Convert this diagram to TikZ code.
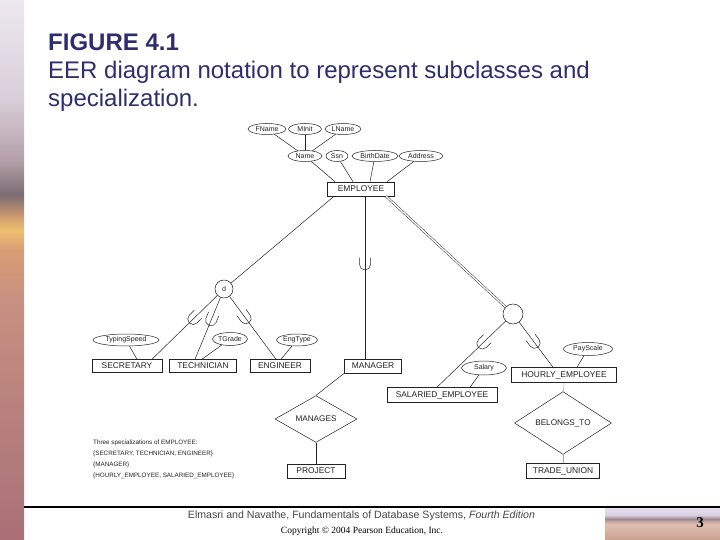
\documentclass[tikz,border=0pt]{standalone}
\usepackage{fontspec}
\setmainfont{Liberation Sans}
\newfontfamily\serifft{Liberation Serif}
\usetikzlibrary{shapes.geometric,calc}
\definecolor{titleblue}{RGB}{46,46,110}
\definecolor{ink}{RGB}{35,35,35}
\definecolor{footgray}{RGB}{70,70,70}
\definecolor{lightln}{RGB}{170,170,170}
\definecolor{Lone}{HTML}{ECE8F0}
\definecolor{Ltwo}{HTML}{D8CDD8}
\definecolor{Lthree}{HTML}{B4A0A8}
\definecolor{Lfour}{HTML}{7C6C72}
\definecolor{Lfive}{HTML}{C89870}
\definecolor{Lsix}{HTML}{EEC070}
\definecolor{Lseven}{HTML}{D89C74}
\definecolor{Leight}{HTML}{C89080}
\definecolor{Lnine}{HTML}{B8827E}
\definecolor{Lten}{HTML}{A87076}
\definecolor{Rone}{HTML}{E6E0EC}
\definecolor{Rtwo}{HTML}{D8D0E0}
\definecolor{Rthree}{HTML}{9C8890}
\definecolor{Rfour}{HTML}{C0A0A0}
\definecolor{Rfive}{HTML}{E0C0B0}
\definecolor{Rsix}{HTML}{C8A090}
\pgfdeclareverticalshading{deskL}{100bp}{color(0bp)=(Lten); color(25bp)=(Lten); color(37.96bp)=(Lnine); color(47.22bp)=(Leight); color(51.85bp)=(Lseven); color(53.7bp)=(Lsix); color(55.09bp)=(Lfive); color(56.94bp)=(Lfour); color(60.19bp)=(Lthree); color(65.74bp)=(Ltwo); color(75bp)=(Lone); color(100bp)=(Lone)}
\pgfdeclareverticalshading{deskR}{100bp}{color(0bp)=(Rsix); color(25bp)=(Rsix); color(50bp)=(Rfive); color(54.7bp)=(Rfour); color(57.8bp)=(Rthree); color(64.06bp)=(Rtwo); color(75bp)=(Rone); color(100bp)=(Rone)}
\tikzset{
 ln/.style={draw=ink, line width=0.5pt},
 ent/.style={rectangle, draw=ink, line width=0.55pt, fill=white, inner sep=0pt, minimum height=14pt, text=ink, font=\fontsize{8.4}{10}\selectfont},
 attr/.style={ellipse, draw=ink, line width=0.5pt, fill=white, inner sep=0pt, minimum height=11pt, text=ink, font=\fontsize{7}{8}\selectfont},
 rel/.style={diamond, draw=ink, line width=0.5pt, fill=white, inner sep=0pt, text=ink, font=\fontsize{8.2}{10}\selectfont},
 spec/.style={circle, draw=ink, line width=0.55pt, fill=white, inner sep=0pt, text=ink, font=\fontsize{7}{8}\selectfont},
 subsetmark/.pic={\draw[ln] (-7pt,5.5pt) -- (0pt,5.5pt) arc[start angle=90,end angle=-90,radius=5.5pt] -- (-7pt,-5.5pt);},
 titletext/.style={anchor=base west, inner sep=0pt, text=titleblue, font=\fontsize{24}{28}\selectfont}
}
\begin{document}
\begin{tikzpicture}[x=1pt,y=-1pt]
\useasboundingbox (0,0) rectangle (720,540);
\fill[white] (0,0) rectangle (720,540);
\shade[shading=deskL] (0,0) rectangle (24,540);
\shade[shading=deskR] (605,508) rectangle (720,540);
\draw[line width=1.1pt] (24,507) -- (720,507);

% title
\node[titletext, font=\bfseries\fontsize{24}{28}\selectfont] (t1) at (48,51) {FIGURE 4.1};
\node[titletext] (t2) at (48,79) {EER diagram notation to represent subclasses and};
\node[titletext] (t3) at (48,107) {specialization.};

% attributes of EMPLOYEE
\node[attr, minimum width=38pt, minimum height=11pt] (fname) at (267,129) {FName};
\node[attr, minimum width=33pt, minimum height=11pt] (minit) at (305,129) {MInit};
\node[attr, minimum width=36pt, minimum height=11pt] (lname) at (343,129) {LName};
\node[attr, minimum width=34pt] (name) at (305,156) {Name};
\node[attr, minimum width=22pt] (ssn) at (337,156) {Ssn};
\node[attr, minimum width=46pt] (bdate) at (375,156) {BirthDate};
\node[attr, minimum width=44pt] (addr) at (421,156) {Address};
\node[ent, minimum width=67pt] (emp) at (361,189) {EMPLOYEE};

\draw[ln] (fname) -- (name);
\draw[ln] (minit) -- (name);
\draw[ln] (lname) -- (name);
\draw[ln] (name) -- ([xshift=-26pt]emp.north);
\draw[ln] (ssn) -- ([xshift=-8pt]emp.north);
\draw[ln] (bdate) -- ([xshift=9pt]emp.north);
\draw[ln] (addr) -- ([xshift=26pt]emp.north);

% specialization circles
\node[spec, minimum size=18pt] (dcirc) at (224,289) {d};
\node[spec, minimum size=20pt] (ocirc) at (513,314) {};

% subclasses
\node[ent, minimum width=70pt, minimum height=13pt] (sec) at (127,366) {SECRETARY};
\node[ent, minimum width=67pt, minimum height=13pt] (tech) at (203,366) {TECHNICIAN};
\node[ent, minimum width=60pt, minimum height=13pt] (eng) at (280,366) {ENGINEER};
\node[ent, minimum width=57pt] (mgr) at (373,366) {MANAGER};
\node[ent, minimum width=110pt, minimum height=15pt] (sal) at (442,395) {SALARIED\_EMPLOYEE};
\node[ent, minimum width=105pt, minimum height=15pt] (hour) at (564,375) {HOURLY\_EMPLOYEE};

% local attributes
\node[attr, minimum width=66pt, minimum height=12pt] (typing) at (126,340) {TypingSpeed};
\node[attr, minimum width=35pt, minimum height=13pt] (tgrade) at (230,339) {TGrade};
\node[attr, minimum width=41pt, minimum height=12pt] (engtype) at (297,340) {EngType};
\node[attr, minimum width=45pt, minimum height=14pt] (salary) at (484,368) {Salary};
\node[attr, minimum width=49pt, minimum height=13pt] (payscale) at (588,349) {PayScale};

% relationships
\node[rel, minimum width=82pt, minimum height=38pt] (manages) at (316,419) {MANAGES};
\node[ent, minimum width=58pt] (proj) at (316,471) {PROJECT};
\node[rel, minimum width=97pt, minimum height=45pt] (belongs) at (563,423) {BELONGS\_TO};
\node[ent, minimum width=73pt, minimum height=15pt] (trade) at (563,471) {TRADE\_UNION};

% superclass connectors
\draw[ln] ([xshift=-27pt]emp.south) -- (dcirc);
\draw[ln] ([xshift=4pt]emp.south) -- ([xshift=-8pt]mgr.north) pic[pos=0.42, sloped, allow upside down]{subsetmark};
\draw[draw=ink, line width=0.45pt, double=white, double distance=1.4pt] ([xshift=25pt]emp.south) -- (ocirc);

% disjoint specialization
\draw[ln] (dcirc) -- ([xshift=25pt]sec.north) pic[pos=0.37, sloped, allow upside down]{subsetmark};
\draw[ln] (dcirc) -- ([xshift=-8pt]tech.north) pic[pos=0.37, sloped, allow upside down]{subsetmark};
\draw[ln] (dcirc) -- ([xshift=-4pt]eng.north) pic[pos=0.35, sloped, allow upside down]{subsetmark};

% overlapping specialization
\draw[ln] (ocirc) -- ([xshift=-5pt]sal.north) pic[pos=0.34, sloped, allow upside down]{subsetmark};
\draw[ln] (ocirc) -- ([xshift=-11pt]hour.north) pic[pos=0.46, sloped, allow upside down]{subsetmark};

% local attribute connectors
\draw[ln] (typing) -- ([xshift=10pt]sec.north);
\draw[ln] (tgrade) -- ([xshift=-1pt]tech.north);
\draw[ln] (engtype) -- ([xshift=1pt]eng.north);
\draw[ln] (salary) -- ([xshift=28pt]sal.north);
\draw[ln] (payscale) -- ([xshift=13pt]hour.north);

% relationship connectors
\draw[ln] (mgr.south west) -- (manages.north);
\draw[ln] (manages) -- (proj);
\draw[draw=lightln, line width=0.5pt] (hour) -- (belongs);
\draw[draw=lightln, line width=0.5pt] (belongs) -- (trade);

% note
\node[anchor=north west, inner sep=0pt, align=left, text=ink, font=\fontsize{6.3}{10.8}\selectfont] (note) at (93,440) {Three specializations of EMPLOYEE:\\\{SECRETARY, TECHNICIAN, ENGINEER\}\\\{MANAGER\}\\\{HOURLY\_EMPLOYEE, SALARIED\_EMPLOYEE\}};

% footer
\node[anchor=base, inner sep=0pt, text=footgray, font=\fontsize{10.6}{12}\selectfont] (foot1) at (361.5,518) {Elmasri and Navathe, Fundamentals of Database Systems, \textit{Fourth Edition}};
\node[anchor=base, inner sep=0pt, font=\serifft\fontsize{9.5}{11}\selectfont] (foot2) at (362,533) {Copyright © 2004 Pearson Education, Inc.};
\node[anchor=base, inner sep=0pt, font=\serifft\bfseries\fontsize{15}{16}\selectfont] (pageno) at (700,527) {3};
\end{tikzpicture}
\end{document}
